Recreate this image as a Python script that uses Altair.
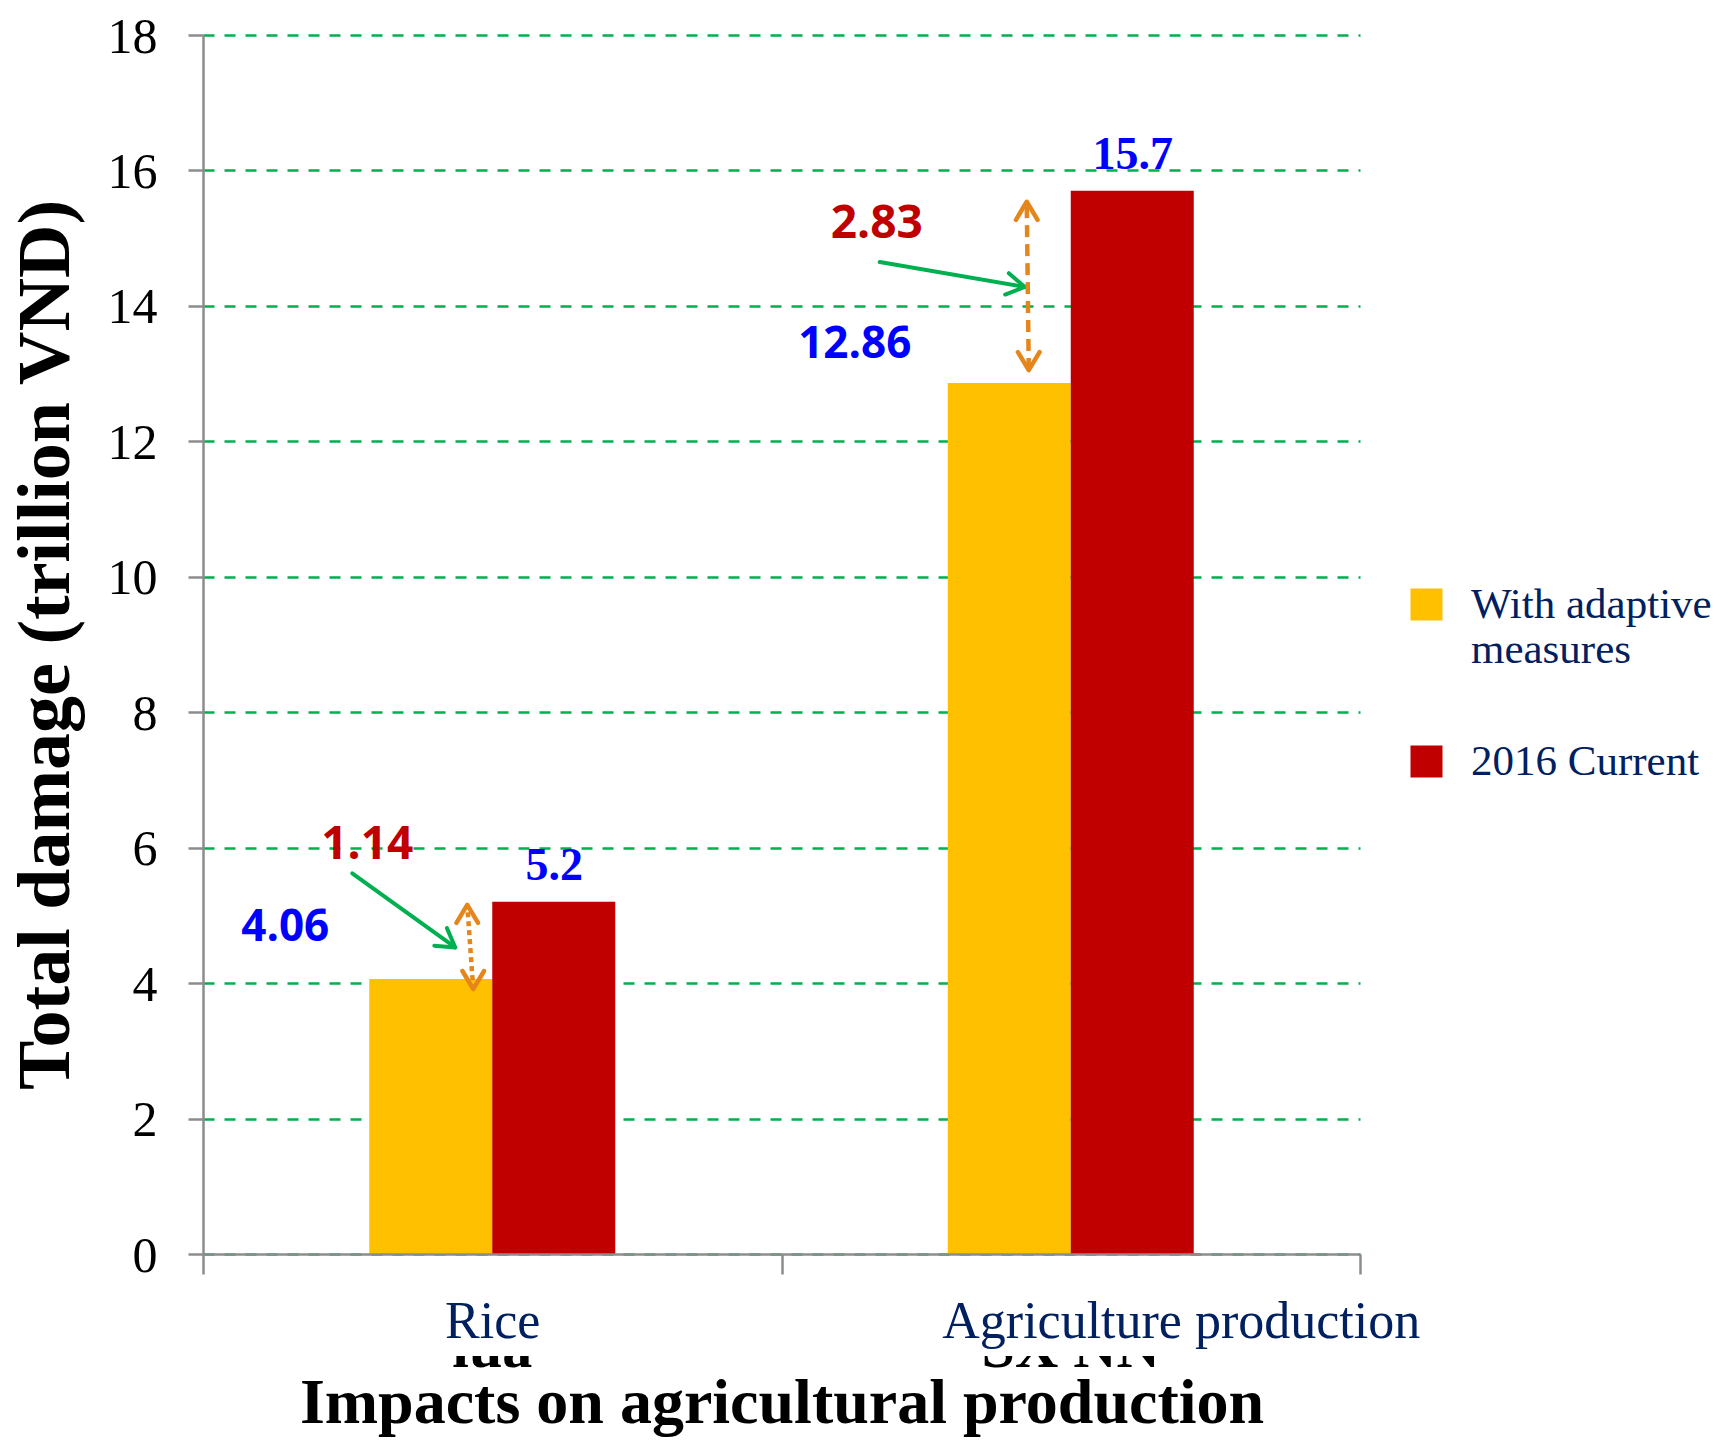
import math
import altair as alt
import pandas as pd

# ---------------- data ----------------
categories = ["Rice", "Agriculture production"]
series_names = ["With adaptive measures", "2016 Current"]
with_adaptive = [4.06, 12.86]
current_2016 = [5.2, 15.7]
reduction = [1.14, 2.83]
hidden_labels = ["lúa", "SX NN"]
y_ticks = [0, 2, 4, 6, 8, 10, 12, 14, 16, 18]

# ---------------- styles / layout ----------------
series_colors = ["#FFC000", "#C00000"]
GRAY = "#8C8C8C"
GREEN = "#00B050"
ORANGE = "#E5861C"
NAVY = "#002060"
SERIF = "Liberation Serif"
SANS = "Open Sans"
W, H = 1157, 1219
PAD = {"left": 203, "top": 35, "right": 374, "bottom": 186}
STEP = W / len(categories)
BAR_W = 123
GROUP_RANGE = [STEP / 2 - BAR_W, STEP / 2 + BAR_W]
AG_LABEL_SHIFT = 110

adaptive_label_offset = {"Rice": (-207, -51), "Agriculture production": (-216, -38)}
current_label_offset = (62, -36)
reduction_label_offset = {"Rice": (-125, -57), "Agriculture production": (-194, 33)}
green_arrow = {
    "Rice": {"tail": (-140, -67), "tip": (-37, 7)},
    "Agriculture production": {"tail": (-191, -25), "tip": (-46, 0)},
}
orange_arrow = {
    "Rice": {"bottom": (-19, 10), "top": (-25, 3), "dash": [5, 4]},
    "Agriculture production": {"bottom": (-42, -13), "top": (-44, 11), "dash": [12, 7]},
}
CHEVRON = "M -1 -0.6 L 0 0 L -1 0.6"

bars_df = pd.DataFrame({
    "category": categories + categories,
    "series": [series_names[0]] * len(categories) + [series_names[1]] * len(categories),
    "value": with_adaptive + current_2016,
})
ann_df = pd.DataFrame({
    "category": categories,
    "adaptive": with_adaptive,
    "current": current_2016,
    "reduction": reduction,
    "fragment": hidden_labels,
})
ann_df["mid"] = (ann_df["adaptive"] + ann_df["current"]) / 2
ann_df["adaptive_txt"] = ann_df["adaptive"].map(lambda v: f"{v:g}")
ann_df["current_txt"] = ann_df["current"].map(lambda v: f"{v:g}")
ann_df["reduction_txt"] = ann_df["reduction"].map(lambda v: f"{v:g}")

# ---------------- scales / axes ----------------
x_scale = alt.Scale(domain=categories, paddingInner=0, paddingOuter=0)
xoff_scale = alt.Scale(domain=series_names, range=GROUP_RANGE, paddingInner=0, paddingOuter=0)
y_scale = alt.Scale(domain=[0, 18], nice=False, zero=True)
color_scale = alt.Scale(domain=series_names, range=series_colors)

x_axis = alt.Axis(
    labelAngle=0, labelFont=SERIF, labelFontSize=52, labelColor=NAVY,
    labelBaseline="alphabetic", labelPadding=63, labelLimit=2000,
    labelOffset={"condition": {"test": f"datum.value === '{categories[1]}'", "value": AG_LABEL_SHIFT},
                 "value": 0},
    tickBand="extent", tickSize=20, tickColor=GRAY, tickWidth=2.5,
    domainColor=GRAY, domainWidth=2.5, grid=False, zindex=1,
    titleFont=SERIF, titleFontSize=64, titleFontWeight="bold", titleColor="black",
    titleX=W / 2, titleY=168, titleBaseline="alphabetic", titleAlign="center",
)
y_axis = alt.Axis(
    values=y_ticks, labelFont=SERIF, labelFontSize=50, labelColor="black",
    labelPadding=31, labelBaseline="alphabetic", labelOffset=17,
    tickSize=15, tickColor=GRAY, tickWidth=2.5, domainColor=GRAY, domainWidth=2.5,
    grid=True, gridColor=GREEN, gridDash=[11, 10], gridWidth=2.5,
    titleFont=SERIF, titleFontSize=74, titleFontWeight="bold", titleColor="black",
    titleAngle=270, titleX=-135, titleY=H / 2, titleBaseline="alphabetic", titleAlign="center",
)

X_TITLE = "Impacts on agricultural production"
Y_TITLE = "Total damage (trillion VND)"


def X():
    return alt.X("category:N", scale=x_scale, sort=categories, title=X_TITLE, axis=x_axis)


def Y(field):
    return alt.Y(f"{field}:Q", scale=y_scale, title=Y_TITLE, axis=y_axis)


legend = alt.Legend(
    orient="none", legendX=1202, legendY=548, title=None,
    symbolType="square", symbolSize=1024, symbolStrokeWidth=0, symbolOpacity=1,
    labelFont=SERIF, labelFontSize=43, labelColor=NAVY, labelOffset=23,
    labelBaseline="middle", labelLimit=2000,
    rowPadding=68, padding=0,
    labelExpr="datum.label == 'With adaptive measures' ? ['With adaptive', 'measures'] : datum.label",
)

layers = []

# bars
layers.append(
    alt.Chart(bars_df).mark_bar().encode(
        x=X(),
        xOffset=alt.XOffset("series:N", scale=xoff_scale, sort=series_names),
        y=Y("value"),
        color=alt.Color("series:N", scale=color_scale, sort=series_names, legend=legend),
    )
)

# partially hidden original Vietnamese axis labels
layers.append(
    alt.Chart(ann_df).mark_text(font=SERIF, fontSize=60, fontWeight="bold", color="black",
                                baseline="alphabetic", align="center").encode(
        x=X(), y=alt.value(1332), text="fragment:N")
)
layers.append(
    alt.Chart(pd.DataFrame({"m": [0]})).mark_rect(color="white").encode(
        x=alt.value(0), x2=alt.value(W), y=alt.value(1246), y2=alt.value(1321))
)

# value labels on "current" bars
dx, dy = current_label_offset
layers.append(
    alt.Chart(ann_df).mark_text(font=SERIF, fontSize=46, fontWeight="bold", color="#0000FF",
                                baseline="middle", align="center", dx=dx, dy=dy).encode(
        x=X(), y=Y("current"), text="current_txt:N")
)

for cat in categories:
    sub = alt.Chart(ann_df).transform_filter(alt.datum.category == cat)

    dx, dy = adaptive_label_offset[cat]
    layers.append(
        sub.mark_text(font=SANS, fontSize=44, fontWeight="bold", color="#0000FF",
                      baseline="middle", align="center", dx=dx, dy=dy).encode(
            x=X(), y=Y("adaptive"), text="adaptive_txt:N")
    )
    dx, dy = reduction_label_offset[cat]
    layers.append(
        sub.mark_text(font=SANS, fontSize=46, fontWeight="bold", color="#C00000",
                      baseline="middle", align="center", dx=dx, dy=dy).encode(
            x=X(), y=Y("current"), text="reduction_txt:N")
    )

    # green pointer arrow
    g = green_arrow[cat]
    (tx, ty), (hx, hy) = g["tail"], g["tip"]
    ang = math.degrees(math.atan2(hy - ty, hx - tx)) % 360
    layers.append(
        sub.mark_rule(color=GREEN, strokeWidth=4, strokeCap="round",
                      xOffset=tx, yOffset=ty, x2Offset=hx, y2Offset=hy).encode(
            x=X(), x2=alt.X2("category:N"), y=Y("mid"), y2=alt.Y2("mid:Q"))
    )
    layers.append(
        sub.mark_point(shape=CHEVRON, size=1300, filled=False, color=GREEN, opacity=1,
                       strokeWidth=4, strokeCap="round", strokeJoin="round",
                       angle=ang, xOffset=hx, yOffset=hy).encode(
            x=X(), y=Y("mid"))
    )

    # orange double arrow showing the difference
    o = orange_arrow[cat]
    (bx, by), (tpx, tpy) = o["bottom"], o["top"]
    layers.append(
        sub.mark_rule(color=ORANGE, strokeWidth=4.5, strokeDash=o["dash"],
                      xOffset=bx, yOffset=by, x2Offset=tpx, y2Offset=tpy).encode(
            x=X(), x2=alt.X2("category:N"), y=Y("adaptive"), y2=alt.Y2("current:Q"))
    )
    layers.append(
        sub.mark_point(shape=CHEVRON, size=1300, filled=False, color=ORANGE, opacity=1,
                       strokeWidth=4.5, strokeCap="round", strokeJoin="round",
                       angle=270, xOffset=tpx, yOffset=tpy).encode(
            x=X(), y=Y("current"))
    )
    layers.append(
        sub.mark_point(shape=CHEVRON, size=1300, filled=False, color=ORANGE, opacity=1,
                       strokeWidth=4.5, strokeCap="round", strokeJoin="round",
                       angle=90, xOffset=bx, yOffset=by).encode(
            x=X(), y=Y("adaptive"))
    )

chart = alt.layer(*layers).properties(
    width=W, height=H, padding=PAD,
    autosize=alt.AutoSizeParams(type="none"),
    background="white",
).configure_view(stroke=None)

chart.save("out.html", embed_options={"renderer": "svg", "actions": False})
